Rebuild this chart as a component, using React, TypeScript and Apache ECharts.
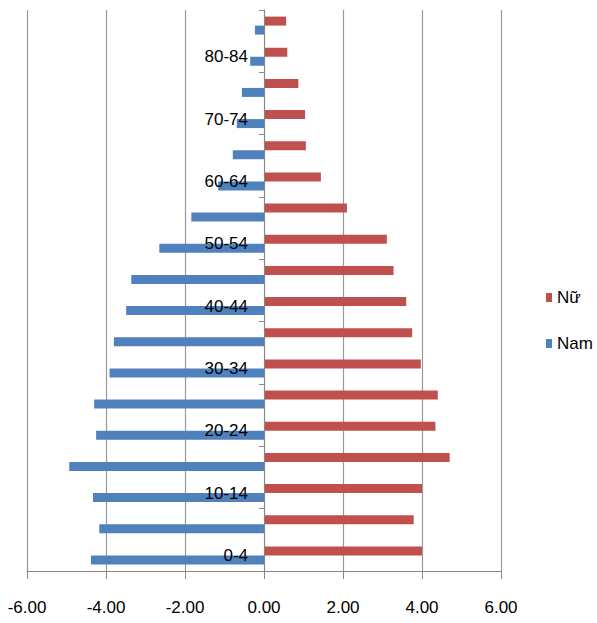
import React, { useEffect, useRef } from "react";
import * as echarts from "echarts";

const categories = [
  "0-4", "5-9", "10-14", "15-19", "20-24", "25-29", "30-34", "35-39", "40-44",
  "45-49", "50-54", "55-59", "60-64", "65-69", "70-74", "75-79", "80-84", "85+",
];
const nu = [
  4.0, 3.79, 4.0, 4.7, 4.34, 4.4, 3.97, 3.75, 3.6,
  3.28, 3.11, 2.1, 1.44, 1.06, 1.04, 0.87, 0.59, 0.56,
];
const nam = [
  -4.38, -4.17, -4.33, -4.93, -4.25, -4.3, -3.91, -3.8, -3.49,
  -3.36, -2.65, -1.84, -1.16, -0.79, -0.69, -0.56, -0.35, -0.23,
];
const seriesNames = ["Nữ", "Nam"];
const xTicks = { min: -6, max: 6, interval: 2 };

const FONT = "'Liberation Sans', Arial, sans-serif";

const GRID_LEFT = 27;
const GRID_RIGHT = 96;

export default function App() {
  const ref = useRef<HTMLDivElement>(null);
  useEffect(() => {
    if (!ref.current) return;
    const chart = echarts.init(ref.current, undefined, { renderer: "svg" });
    const plotWidth = 597 - GRID_LEFT - GRID_RIGHT;
    const zeroOffset = (plotWidth * (0 - xTicks.min)) / (xTicks.max - xTicks.min);
    chart.setOption({
      animation: false,
      backgroundColor: "#ffffff",
      grid: {
        left: GRID_LEFT,
        right: GRID_RIGHT,
        top: 10,
        bottom: 52,
        containLabel: false,
        outerBoundsMode: "none",
      },
      legend: {
        orient: "vertical",
        left: 541,
        top: 284,
        itemWidth: 6,
        itemHeight: 9,
        itemGap: 29,
        icon: "rect",
        textStyle: { fontFamily: FONT, fontSize: 17, color: "#000" },
        data: seriesNames,
      },
      xAxis: {
        type: "value",
        min: xTicks.min,
        max: xTicks.max,
        interval: xTicks.interval,
        axisLine: { show: true, lineStyle: { color: "#868686", width: 1 } },
        axisTick: { show: true, length: 8, lineStyle: { color: "#868686" } },
        splitLine: { show: true, lineStyle: { color: "#999999", width: 1.2 } },
        axisLabel: {
          margin: 28,
          fontFamily: FONT,
          fontSize: 17,
          color: "#000",
          formatter: (v: number) => v.toFixed(2),
        },
      },
      yAxis: {
        type: "category",
        data: categories,
        position: "left",
        offset: -zeroOffset,
        z: 10,
        axisLine: { show: true, onZero: false, lineStyle: { color: "#868686" } },
        axisTick: { show: true, length: 5, inside: false, lineStyle: { color: "#868686" } },
        axisLabel: {
          interval: 1,
          margin: 16,
          fontFamily: FONT,
          fontSize: 17,
          color: "#000",
        },
        splitLine: { show: false },
      },
      series: [
        {
          name: seriesNames[0],
          type: "bar",
          data: nu,
          barWidth: 9,
          barGap: "0%",
          itemStyle: { color: "#C0504D" },
        },
        {
          name: seriesNames[1],
          type: "bar",
          data: nam,
          barWidth: 9,
          barGap: "0%",
          itemStyle: { color: "#4F81BD" },
        },
      ],
    });
    return () => chart.dispose();
  }, []);
  return (
    <div
      ref={ref}
      style={{ position: "fixed", left: 0, top: 0, width: 597, height: 623 }}
    />
  );
}
